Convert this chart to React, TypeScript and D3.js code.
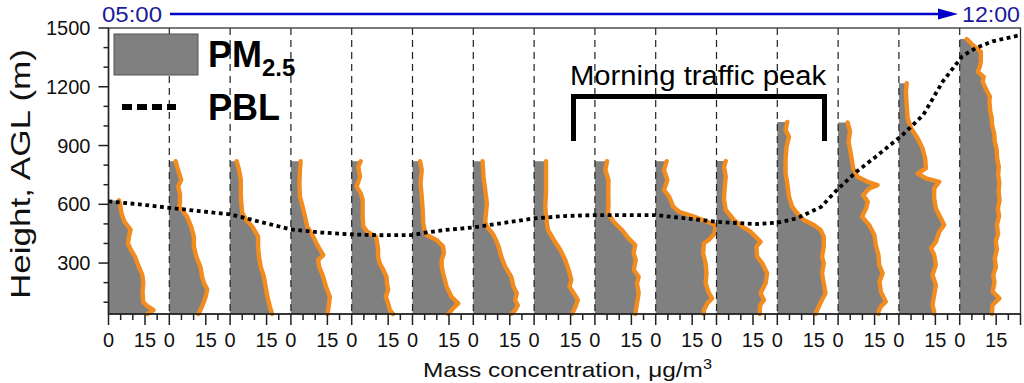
import React from 'react';
import * as d3 from 'd3';

const W = 1024;
const H = 383;
const plotLeft = 108.5;
const plotRight = 1020.5;
const plotTop = 28;
const plotBottom = 314;

const panelTimes = ['05:00', '05:30', '06:00', '06:30', '07:00', '07:30', '08:00', '08:30', '09:00', '09:30', '10:00', '10:30', '11:00', '11:30', '12:00'];
const concDomain = [0, 25];
const concTicks = [0, 5, 10, 15, 20];
const concLabelTicks = [0, 15];
const heightDomain = [40, 1500];
const heightMajorTicks = [300, 600, 900, 1200, 1500];
const heightMinorTicks = [100, 200, 400, 500, 700, 800, 1000, 1100, 1300, 1400];

// [height m AGL, PM2.5 ug/m3]
const prof0500 = [[40, 16], [60, 18.5], [80, 16], [100, 14.3], [150, 14], [200, 14.3], [240, 13.9], [280, 12.5], [330, 11], [370, 9.1], [400, 8], [435, 8.4], [470, 9.1], [510, 6.6], [555, 5.3], [605, 4.7], [620, 4.3]];
const prof0530 = [[40, 12], [60, 12.8], [95, 14], [130, 15], [165, 15.6], [200, 14.2], [230, 13.5], [280, 12.8], [330, 11.2], [385, 10.1], [435, 10.1], [485, 9], [535, 7.4], [570, 5.3], [590, 4], [605, 4.4], [655, 4.4], [690, 3.6], [725, 4.9], [775, 3.6], [820, 2.6]];
const prof0600 = [[40, 17.3], [75, 16.4], [130, 15.3], [180, 14.6], [230, 13.9], [280, 12.6], [330, 11.9], [385, 11.5], [435, 11.5], [485, 9.2], [525, 6.4], [555, 5], [605, 4.6], [655, 4.4], [725, 4.4], [775, 3.7], [820, 2.7]];
const prof0630 = [[40, 15], [60, 15.3], [103, 15.8], [128, 16], [180, 14.4], [230, 13.3], [282, 11.6], [316, 11.2], [341, 13.3], [384, 11.2], [435, 9.2], [486, 6.7], [537, 5.8], [588, 4.8], [639, 3.7], [707, 3.5], [775, 3.7], [820, 4]];
const prof0700 = [[40, 17], [60, 15.7], [94, 15], [128, 14], [163, 15], [197, 14.5], [230, 14.3], [265, 13], [299, 11.5], [333, 10.8], [367, 10.9], [401, 10.5], [435, 10], [460, 6.4], [486, 4.8], [537, 4.5], [588, 4.5], [622, 4.5], [656, 3.7], [690, 2], [741, 3.4], [792, 2.7], [820, 3.7]];
const prof0730 = [[40, 14.7], [69, 16.7], [94, 18.8], [128, 16], [180, 14], [214, 13.3], [248, 12.6], [282, 12], [316, 12], [350, 12.9], [384, 12.6], [418, 9.9], [443, 5.8], [460, 5.1], [503, 4.4], [571, 4.2], [639, 3.8], [707, 3.3], [775, 3.8], [820, 3.1]];
const prof0800 = [[40, 15.6], [60, 17.2], [85, 18.3], [110, 17.2], [146, 17.9], [180, 16.5], [230, 15.6], [282, 13.1], [333, 11.5], [384, 10.4], [418, 9.3], [452, 7.9], [486, 5.6], [511, 4.9], [554, 5.2], [605, 5.6], [673, 4.9], [741, 4.2], [820, 3.8]];
const prof0830 = [[40, 15.6], [77, 17], [111, 18], [146, 16.3], [180, 14.5], [214, 15.3], [265, 14.2], [316, 12.8], [367, 10.8], [418, 8.1], [469, 5.7], [537, 4.9], [588, 4.6], [656, 4.9], [741, 4.9], [820, 4.9]];
const prof0900 = [[40, 16.6], [94, 17.3], [146, 18], [197, 17.3], [230, 18], [265, 16], [316, 16.8], [350, 15.9], [392, 16.6], [426, 13.8], [469, 11.1], [511, 7.7], [554, 5.4], [605, 5.6], [656, 5.5], [724, 5.6], [775, 4.3], [820, 5]];
const prof0930 = [[40, 19.8], [60, 19.8], [94, 21.2], [120, 23.2], [146, 21.9], [197, 20.5], [248, 20.9], [299, 20.5], [350, 19.5], [401, 19.8], [420, 22], [452, 24.3], [494, 24.6], [511, 21.2], [537, 15.7], [562, 9.6], [588, 7.2], [639, 5.5], [673, 3.4], [724, 4.8], [775, 3.4], [820, 4.5]];
const prof1000 = [[40, 17.8], [60, 17.8], [86, 18], [112, 19.5], [146, 18.1], [197, 20.2], [248, 20.8], [299, 18.8], [333, 16.7], [384, 16.4], [409, 18.1], [435, 16], [460, 14], [486, 10.6], [520, 7.2], [571, 3.8], [622, 3.1], [673, 3.3], [741, 3.8], [792, 3.1], [821, 3.8]];
const prof1030 = [[40, 15.7], [77, 17], [112, 18.4], [146, 19.8], [197, 19.1], [248, 18.4], [299, 19.1], [333, 18.4], [384, 19.1], [435, 19.1], [469, 17.8], [494, 15], [520, 10.9], [554, 8.2], [588, 6.1], [639, 4.8], [707, 4.1], [758, 3.4], [826, 3.4], [894, 3.8], [945, 4.8], [979, 3.4], [1020, 4.1]];
const prof1100 = [[40, 16.6], [52, 16.6], [77, 17.5], [103, 19.6], [154, 17.6], [205, 17], [248, 18.3], [290, 16.9], [341, 16.6], [392, 15.5], [443, 14.9], [494, 12.8], [537, 9.8], [579, 11.5], [613, 12.2], [647, 10.3], [681, 12.8], [698, 16.2], [715, 12.1], [741, 8], [784, 6.2], [852, 5.3], [920, 4.3], [971, 4.9], [1018, 3.9]];
const prof1130 = [[40, 14.5], [52, 14.5], [86, 13.8], [137, 14.5], [188, 15.2], [239, 13.8], [290, 15.2], [341, 14.5], [375, 13.2], [409, 15.2], [460, 16.6], [494, 18.6], [528, 17.3], [579, 15.2], [630, 14.5], [681, 14.5], [715, 16.6], [732, 11.1], [758, 7.7], [784, 11.1], [835, 10.8], [886, 9.7], [937, 7.7], [988, 5], [1039, 3.6], [1107, 3.2], [1175, 2.9], [1218, 3.2]];
const prof1200 = [[40, 13.3], [52, 13.3], [86, 13.5], [120, 16.3], [154, 13.5], [200, 14.3], [239, 13.8], [280, 14.9], [324, 14.4], [370, 15.3], [409, 14.8], [450, 15.8], [494, 15.3], [540, 16.2], [579, 15.7], [620, 16.4], [664, 16], [710, 16.3], [750, 15.8], [790, 16.1], [835, 15.4], [880, 15.2], [920, 14.4], [960, 14.2], [1005, 13.3], [1040, 13.2], [1073, 12.6], [1124, 12.2], [1150, 12.4], [1175, 11.3], [1226, 9.4], [1250, 9.9], [1277, 7.4], [1300, 8.2], [1328, 8.7], [1379, 8.7], [1413, 5.3], [1444, 2.9]];

const profiles = [prof0500, prof0530, prof0600, prof0630, prof0700, prof0730, prof0800, prof0830, prof0900, prof0930, prof1000, prof1030, prof1100, prof1130, prof1200];

// Planetary boundary layer height (m) vs time of day (h)
const pblHours = [5.0, 5.25, 5.5, 5.75, 6.0, 6.25, 6.5, 6.75, 7.0, 7.25, 7.5, 7.6, 7.75, 8.0, 8.25, 8.5, 8.75, 9.0, 9.5, 9.75, 10.0, 10.31, 10.5, 10.66, 10.86, 10.99, 11.15, 11.31, 11.53, 11.7, 11.86, 12.02, 12.13, 12.27, 12.5];
const pblHeights = [615, 600, 582, 565, 549, 510, 472, 456, 446, 442, 443, 455, 468, 482, 505, 528, 540, 545, 545, 528, 511, 499, 506, 528, 587, 673, 766, 843, 954, 1056, 1226, 1355, 1397, 1432, 1464];

const FONT = '"Liberation Sans", Arial, Helvetica, sans-serif';
const GREY = '#808080';
const ORANGE = '#f28c1e';

export default function App() {
  const y = d3.scaleLinear().domain(heightDomain).range([plotBottom, plotTop]);
  const panelX = d3.scaleLinear().domain([0, panelTimes.length]).range([plotLeft, plotRight]);
  const timeX = d3.scaleLinear().domain([5, 12.5]).range([plotLeft, plotRight]);

  const pblData = pblHours.map((h, i) => [h, pblHeights[i]] as [number, number]);
  const pblLine = d3.line<[number, number]>().x(d => timeX(d[0])).y(d => y(d[1]))(pblData) || '';

  return (
    <svg width={W} height={H} style={{ position: 'absolute', left: 0, top: 0, background: '#fff' }} fontFamily={FONT}>
      {/* profiles */}
      {profiles.map((prof, i) => {
        const x = d3.scaleLinear().domain(concDomain).range([panelX(i), panelX(i + 1)]);
        const data = prof as [number, number][];
        const area = d3.area<[number, number]>().y(d => y(d[0])).x0(x(0)).x1(d => x(d[1]))(data) || '';
        const line = d3.line<[number, number]>().x(d => x(d[1])).y(d => y(d[0]))(data) || '';
        return (
          <g key={'p' + i}>
            <path d={area} fill={GREY} stroke="none" />
            <path d={line} fill="none" stroke={ORANGE} strokeWidth={4.4} strokeLinejoin="round" strokeLinecap="round" />
          </g>
        );
      })}

      {/* dashed panel separators */}
      {panelTimes.slice(1).map((t, i) => (
        <line key={'s' + t} x1={panelX(i + 1)} x2={panelX(i + 1)} y1={plotTop} y2={plotBottom} stroke="#222" strokeWidth={1.2} strokeDasharray="7 5" />
      ))}

      {/* PBL */}
      <path d={pblLine} fill="none" stroke="#000" strokeWidth={3.8} strokeDasharray="3.8 3.6" />

      {/* frame */}
      <rect x={plotLeft} y={plotTop} width={plotRight - plotLeft} height={plotBottom - plotTop} fill="none" stroke="#333" strokeWidth={1.3} />
      <line x1={plotLeft} x2={plotLeft} y1={plotTop} y2={plotBottom} stroke="#222" strokeWidth={1.5} />
      <line x1={plotLeft} x2={plotRight} y1={plotBottom} y2={plotBottom} stroke="#222" strokeWidth={1.5} />

      {/* y ticks */}
      {heightMajorTicks.map(h => (
        <g key={'ym' + h}>
          <line x1={plotLeft - 10} x2={plotLeft} y1={y(h)} y2={y(h)} stroke="#222" strokeWidth={1.5} />
          <text x={plotLeft - 18} y={y(h)} dy="0.35em" textAnchor="end" fontSize={20} fill="#111">{h}</text>
        </g>
      ))}
      {heightMinorTicks.map(h => (
        <line key={'yn' + h} x1={plotLeft - 5} x2={plotLeft} y1={y(h)} y2={y(h)} stroke="#222" strokeWidth={1.5} />
      ))}

      {/* x ticks per panel */}
      {panelTimes.map((t, i) => {
        const x = d3.scaleLinear().domain(concDomain).range([panelX(i), panelX(i + 1)]);
        return (
          <g key={'xt' + t}>
            {concTicks.map(c => {
              const major = concLabelTicks.includes(c);
              return <line key={c} x1={x(c)} x2={x(c)} y1={plotBottom} y2={plotBottom + (major ? 11 : 6)} stroke="#222" strokeWidth={1.5} />;
            })}
            {concLabelTicks.map(c => (
              <text key={'l' + c} x={x(c)} y={plotBottom + 33} textAnchor="middle" fontSize={20} fill="#111">{c}</text>
            ))}
          </g>
        );
      })}
      <line x1={plotRight} x2={plotRight} y1={plotBottom} y2={plotBottom + 11} stroke="#222" strokeWidth={1.5} />

      {/* axis titles */}
      <text x={423} y={377} fontSize={21} fill="#111" textLength={289} lengthAdjust="spacingAndGlyphs">
        Mass concentration, μg/m<tspan fontSize={14} dy={-8}>3</tspan>
      </text>
      <text transform={`translate(30, ${(plotTop + plotBottom) / 2 + 3}) rotate(-90)`} textAnchor="middle" fontSize={28} fill="#111" textLength={250} lengthAdjust="spacingAndGlyphs">Height, AGL (m)</text>

      {/* time arrow */}
      <text x={102} y={22} fontSize={22} fill="#1a1a9c" textLength={60} lengthAdjust="spacingAndGlyphs">05:00</text>
      <line x1={170} x2={942} y1={14} y2={14} stroke="#0000c8" strokeWidth={2.5} />
      <path d="M 938 8.5 L 958 14 L 938 19.5 Z" fill="#0000c8" />
      <text x={962} y={22} fontSize={22} fill="#1a1a9c" textLength={58} lengthAdjust="spacingAndGlyphs">12:00</text>

      {/* legend */}
      <rect x={114} y={34} width={84} height={41} fill={GREY} stroke="#555" strokeWidth={1} />
      <text x={208} y={67} fontSize={36} fontWeight="bold" fill="#000">PM<tspan fontSize={24} dy={9}>2.5</tspan></text>
      <line x1={122} x2={176} y1={107} y2={107} stroke="#000" strokeWidth={6} strokeDasharray="10 5" />
      <text x={208} y={120} fontSize={36} fontWeight="bold" fill="#000">PBL</text>

      {/* annotation */}
      <text x={570} y={85} fontSize={27} fill="#000" textLength={256} lengthAdjust="spacingAndGlyphs">Morning traffic peak</text>
      <path d="M 573.5 141 L 573.5 96.5 L 824.5 96.5 L 824.5 141" fill="none" stroke="#000" strokeWidth={5} />
    </svg>
  );
}
